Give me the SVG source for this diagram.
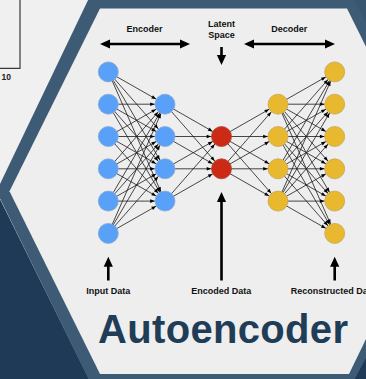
<svg xmlns="http://www.w3.org/2000/svg" width="366" height="379" viewBox="0 0 366 379">
<defs>
<style>
.lbl{font-family:"Liberation Sans",Arial,sans-serif;font-weight:700;font-size:9px;fill:#111;text-anchor:middle}
.c{stroke:#1a1a1a;stroke-width:0.8;fill:none;marker-end:url(#ah)}
.big{stroke:#000;stroke-width:2.6;fill:none}
.in{fill:#59a0f9;stroke:#8aaad0;stroke-width:0.8}
.lat{fill:#cd2a15;stroke:#a8473a;stroke-width:0.8}
.dec{fill:#e8b82f;stroke:#c6a75a;stroke-width:0.8}
</style>
<marker id="ah" markerUnits="userSpaceOnUse" viewBox="-16 -3 17 6" markerWidth="17" markerHeight="6" refX="0" refY="0" orient="auto" overflow="visible">
<path d="M-10.3,0 L-14.8,-1.8 L-14.8,1.8 z" fill="#000"/>
</marker>
<marker id="big" markerUnits="userSpaceOnUse" viewBox="0 -5 10 10" markerWidth="10" markerHeight="10" refX="5" refY="0" orient="auto-start-reverse" overflow="visible">
<path d="M0,-4.6 L10,0 L0,4.6 z" fill="#000"/>
</marker>
</defs>

<g id="background">
<rect x="0" y="0" width="366" height="379" fill="#f0f0f0"/>
<polygon points="-4,191.3 93,387 -4,387" fill="#1f3a57"/>
<polygon points="340,-6 370,-6 370,191 340,191" fill="#38566f"/>
<polygon points="340,191 370,191 370,390 340,390" fill="#1f3a57"/>
<polygon points="90,-4 352,-4 455,191.3 351,386 92,386 -3.5,191.3" fill="#3d5b74"/>
<polygon points="100,8.5 347,8.5 438,191.3 349,374 100,374 9.5,191.3" fill="#eeeeee"/>
<polyline points="20,0 20,68.3 0,68.3" fill="none" stroke="#3a3a3a" stroke-width="1.2"/>
<text x="1.5" y="80" font-family="'Liberation Sans',Arial,sans-serif" font-weight="700" font-size="8.5" fill="#222">10</text>
</g>

<g id="connectors">
<line class="c" x1="108.3" y1="71.9" x2="165" y2="104.2"/>
<line class="c" x1="108.3" y1="71.9" x2="165" y2="136.5"/>
<line class="c" x1="108.3" y1="71.9" x2="165" y2="168.8"/>
<line class="c" x1="108.3" y1="71.9" x2="165" y2="201.1"/>
<line class="c" x1="108.3" y1="104.2" x2="165" y2="104.2"/>
<line class="c" x1="108.3" y1="104.2" x2="165" y2="136.5"/>
<line class="c" x1="108.3" y1="104.2" x2="165" y2="168.8"/>
<line class="c" x1="108.3" y1="104.2" x2="165" y2="201.1"/>
<line class="c" x1="108.3" y1="136.5" x2="165" y2="104.2"/>
<line class="c" x1="108.3" y1="136.5" x2="165" y2="136.5"/>
<line class="c" x1="108.3" y1="136.5" x2="165" y2="168.8"/>
<line class="c" x1="108.3" y1="136.5" x2="165" y2="201.1"/>
<line class="c" x1="108.3" y1="168.8" x2="165" y2="104.2"/>
<line class="c" x1="108.3" y1="168.8" x2="165" y2="136.5"/>
<line class="c" x1="108.3" y1="168.8" x2="165" y2="168.8"/>
<line class="c" x1="108.3" y1="168.8" x2="165" y2="201.1"/>
<line class="c" x1="108.3" y1="201.1" x2="165" y2="104.2"/>
<line class="c" x1="108.3" y1="201.1" x2="165" y2="136.5"/>
<line class="c" x1="108.3" y1="201.1" x2="165" y2="168.8"/>
<line class="c" x1="108.3" y1="201.1" x2="165" y2="201.1"/>
<line class="c" x1="108.3" y1="233.4" x2="165" y2="104.2"/>
<line class="c" x1="108.3" y1="233.4" x2="165" y2="136.5"/>
<line class="c" x1="108.3" y1="233.4" x2="165" y2="168.8"/>
<line class="c" x1="108.3" y1="233.4" x2="165" y2="201.1"/>

<line class="c" x1="165" y1="104.2" x2="221.5" y2="136.5"/>
<line class="c" x1="165" y1="104.2" x2="221.5" y2="168.8"/>
<line class="c" x1="165" y1="136.5" x2="221.5" y2="136.5"/>
<line class="c" x1="165" y1="136.5" x2="221.5" y2="168.8"/>
<line class="c" x1="165" y1="168.8" x2="221.5" y2="136.5"/>
<line class="c" x1="165" y1="168.8" x2="221.5" y2="168.8"/>
<line class="c" x1="165" y1="201.1" x2="221.5" y2="136.5"/>
<line class="c" x1="165" y1="201.1" x2="221.5" y2="168.8"/>

<line class="c" x1="221.5" y1="136.5" x2="278" y2="104.2"/>
<line class="c" x1="221.5" y1="136.5" x2="278" y2="136.5"/>
<line class="c" x1="221.5" y1="136.5" x2="278" y2="168.8"/>
<line class="c" x1="221.5" y1="136.5" x2="278" y2="201.1"/>
<line class="c" x1="221.5" y1="168.8" x2="278" y2="104.2"/>
<line class="c" x1="221.5" y1="168.8" x2="278" y2="136.5"/>
<line class="c" x1="221.5" y1="168.8" x2="278" y2="168.8"/>
<line class="c" x1="221.5" y1="168.8" x2="278" y2="201.1"/>

<line class="c" x1="278" y1="104.2" x2="334.7" y2="71.9"/>
<line class="c" x1="278" y1="104.2" x2="334.7" y2="104.2"/>
<line class="c" x1="278" y1="104.2" x2="334.7" y2="136.5"/>
<line class="c" x1="278" y1="104.2" x2="334.7" y2="168.8"/>
<line class="c" x1="278" y1="104.2" x2="334.7" y2="201.1"/>
<line class="c" x1="278" y1="104.2" x2="334.7" y2="233.4"/>
<line class="c" x1="278" y1="136.5" x2="334.7" y2="71.9"/>
<line class="c" x1="278" y1="136.5" x2="334.7" y2="104.2"/>
<line class="c" x1="278" y1="136.5" x2="334.7" y2="136.5"/>
<line class="c" x1="278" y1="136.5" x2="334.7" y2="168.8"/>
<line class="c" x1="278" y1="136.5" x2="334.7" y2="201.1"/>
<line class="c" x1="278" y1="136.5" x2="334.7" y2="233.4"/>
<line class="c" x1="278" y1="168.8" x2="334.7" y2="71.9"/>
<line class="c" x1="278" y1="168.8" x2="334.7" y2="104.2"/>
<line class="c" x1="278" y1="168.8" x2="334.7" y2="136.5"/>
<line class="c" x1="278" y1="168.8" x2="334.7" y2="168.8"/>
<line class="c" x1="278" y1="168.8" x2="334.7" y2="201.1"/>
<line class="c" x1="278" y1="168.8" x2="334.7" y2="233.4"/>
<line class="c" x1="278" y1="201.1" x2="334.7" y2="71.9"/>
<line class="c" x1="278" y1="201.1" x2="334.7" y2="104.2"/>
<line class="c" x1="278" y1="201.1" x2="334.7" y2="136.5"/>
<line class="c" x1="278" y1="201.1" x2="334.7" y2="168.8"/>
<line class="c" x1="278" y1="201.1" x2="334.7" y2="201.1"/>
<line class="c" x1="278" y1="201.1" x2="334.7" y2="233.4"/>

<line class="big" x1="105" y1="44" x2="185" y2="44" marker-start="url(#big)" marker-end="url(#big)"/>
<line class="big" x1="249" y1="44" x2="330" y2="44" marker-start="url(#big)" marker-end="url(#big)"/>
<line class="big" x1="221.5" y1="47" x2="221.5" y2="60" marker-end="url(#big)"/>
<line class="big" x1="108.3" y1="280.5" x2="108.3" y2="261.7" marker-end="url(#big)"/>
<line class="big" x1="221.5" y1="280.5" x2="221.5" y2="197" marker-end="url(#big)"/>
<line class="big" x1="334.7" y1="280.5" x2="334.7" y2="261.7" marker-end="url(#big)"/>
</g>

<g id="input-layer">
<circle class="in" cx="108.3" cy="71.9" r="10"/>
<circle class="in" cx="108.3" cy="104.2" r="10"/>
<circle class="in" cx="108.3" cy="136.5" r="10"/>
<circle class="in" cx="108.3" cy="168.8" r="10"/>
<circle class="in" cx="108.3" cy="201.1" r="10"/>
<circle class="in" cx="108.3" cy="233.4" r="10"/>
</g>
<g id="encoder-hidden">
<circle class="in" cx="165" cy="104.2" r="10"/>
<circle class="in" cx="165" cy="136.5" r="10"/>
<circle class="in" cx="165" cy="168.8" r="10"/>
<circle class="in" cx="165" cy="201.1" r="10"/>
</g>
<g id="latent-layer">
<circle class="lat" cx="221.5" cy="136.5" r="10"/>
<circle class="lat" cx="221.5" cy="168.8" r="10"/>
</g>
<g id="decoder-hidden">
<circle class="dec" cx="278" cy="104.2" r="10"/>
<circle class="dec" cx="278" cy="136.5" r="10"/>
<circle class="dec" cx="278" cy="168.8" r="10"/>
<circle class="dec" cx="278" cy="201.1" r="10"/>
</g>
<g id="output-layer">
<circle class="dec" cx="334.7" cy="71.9" r="10"/>
<circle class="dec" cx="334.7" cy="104.2" r="10"/>
<circle class="dec" cx="334.7" cy="136.5" r="10"/>
<circle class="dec" cx="334.7" cy="168.8" r="10"/>
<circle class="dec" cx="334.7" cy="201.1" r="10"/>
<circle class="dec" cx="334.7" cy="233.4" r="10"/>
</g>

<g id="labels">
<text class="lbl" x="144.5" y="32.3">Encoder</text>
<text class="lbl" x="221.5" y="27">Latent</text>
<text class="lbl" x="221.5" y="37.5">Space</text>
<text class="lbl" x="289.3" y="32.3">Decoder</text>
<text class="lbl" x="108.3" y="293.6">Input Data</text>
<text class="lbl" x="221.3" y="293.6">Encoded Data</text>
<text class="lbl" x="290.7" y="293.6" style="text-anchor:start">Reconstructed Data</text>
<text x="98" y="343" font-family="'Liberation Sans',Arial,sans-serif" font-weight="700" font-size="40" fill="#1f3d57" textLength="250" lengthAdjust="spacing">Autoencoder</text>
</g>
</svg>
